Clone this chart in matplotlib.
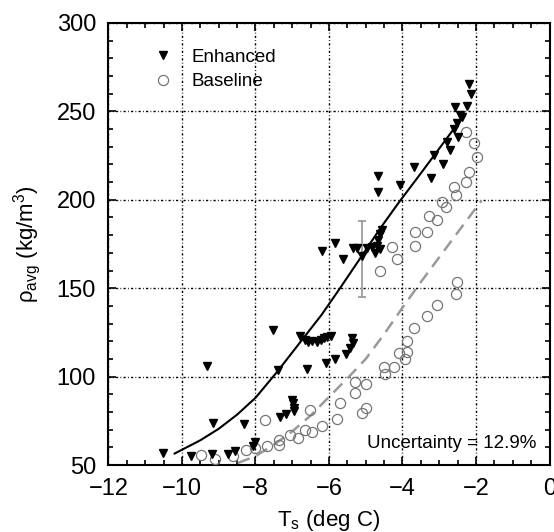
import matplotlib
matplotlib.use("Agg")
import matplotlib.pyplot as plt
from matplotlib.ticker import MultipleLocator

plt.rcParams["font.family"] = ["Liberation Sans", "DejaVu Sans"]
plt.rcParams["mathtext.fontset"] = "custom"
plt.rcParams["mathtext.rm"] = "Liberation Sans"
plt.rcParams["mathtext.it"] = "Liberation Sans:italic"

# Enhanced (filled down triangles)
enhanced_t = [-10.51, -9.76, -9.33, -9.16, -9.19, -8.74, -8.56, -8.30, -8.07, -8.02,
              -7.52, -7.40, -7.34, -7.16, -7.02, -6.97, -6.94, -6.96,
              -6.79, -6.65, -6.56, -6.47, -6.32, -6.23, -6.14, -6.05, -5.95,
              -6.61, -6.08, -5.84, -5.54, -5.43, -5.34, -5.38,
              -6.20, -5.84, -5.61, -5.34, -5.25, -5.11, -4.97, -4.84, -4.75, -4.61,
              -4.70, -4.67, -4.60, -4.56, -4.68, -4.68, -4.07, -3.69, -3.23, -3.14,
              -2.89, -2.80, -2.70, -2.48, -2.59, -2.58, -2.44, -2.37, -2.51, -2.24,
              -2.14, -2.19]
enhanced_rho = [57, 55, 106, 74, 56, 56, 58, 73, 61, 63,
                126.5, 103.5, 77, 79, 86.5, 85, 82.5, 80.5,
                123, 120.7, 119.8, 120.1, 119.8, 120.7, 121.6, 122.6, 123,
                104.5, 107.5, 110, 113, 116, 119, 122,
                171, 175.4, 166.4, 172.5, 172.5, 168, 172.6, 173.5, 170, 172,
                174, 177, 180.5, 183, 204.5, 213.6, 208.4, 218.3, 212.6, 225.2,
                220.4, 232.9, 228, 235.4, 240.2, 252.5, 248, 247, 243.3, 253.3,
                260, 265.5]

# Baseline (open circles)
baseline_t = [-9.49, -9.10, -8.61, -8.26, -8.00, -7.74, -7.69, -7.37, -7.35, -7.05,
              -6.84, -6.65, -6.47, -6.51, -6.20, -5.77, -5.69, -5.29, -5.29, -5.00,
              -5.09, -5.00, -4.48, -4.49, -4.22, -3.94, -4.09, -3.88, -3.87, -3.68,
              -3.33, -3.06, -2.55, -2.53, -4.60, -4.14, -4.29, -3.67, -3.67, -3.34,
              -3.06, -3.27, -2.82, -2.92, -2.55, -2.60, -2.27, -2.18, -1.98, -2.05,
              -2.27, -5.11]
baseline_rho = [55.7, 53.6, 55.1, 58.3, 59.5, 75.7, 61, 63.9, 61.3, 66.8,
                65.1, 69.8, 68.5, 80.9, 72.1, 76.1, 85.3, 90.6, 97.1, 95.6,
                79.2, 82.4, 101.5, 105.5, 105.5, 109.9, 113.3, 114, 120.4, 127.5,
                134.3, 140.5, 147, 153.4, 159.7, 166.3, 173.1, 174, 181.8, 181.8,
                188.8, 190.6, 196, 198.9, 202.7, 207.4, 210, 215.9, 224.4, 232,
                238.5, 171.6]

# fit curves
enh_fit_t = [-10.2, -9.5, -9.0, -8.5, -8.0, -7.4, -6.8, -6.2, -5.7, -5.1,
             -4.6, -4.1, -3.5, -3.0, -2.5]
enh_fit_rho = [56.5, 64, 70.5, 78.5, 88, 103, 119, 135, 150, 168.5,
               184, 198.5, 215, 229, 243]
base_fit_t = [-9.0, -8.5, -8.0, -7.5, -7.0, -6.5, -6.0, -5.5, -5.0, -4.5,
              -4.0, -3.5, -3.0, -2.5, -1.85]
base_fit_rho = [48, 51, 55, 61.5, 69, 78, 88.5, 99, 110, 124,
                139, 153.5, 167.5, 181.5, 199.5]

err_t = [-5.1]
err_rho = [166.7]
err_size = [21.5]

fig = plt.figure(figsize=(5.54, 5.32), dpi=100)
ax = fig.add_axes([0.1958, 0.1259, 0.7961, 0.8309])

ax.grid(True, which="major", color="black", linestyle=(0, (1.6, 1.6, 0.6, 1.6)), linewidth=1.0)
ax.set_axisbelow(True)

ax.plot(base_fit_t, base_fit_rho, color="#9a9a9a", linestyle=(0, (5, 3)), linewidth=1.8, zorder=2)
ax.plot(enh_fit_t, enh_fit_rho, color="black", linewidth=1.5, zorder=3)
ax.errorbar(err_t, err_rho, yerr=err_size, fmt="none", ecolor="#8c8c8c", elinewidth=1.1,
            capsize=3, capthick=1.1, zorder=4)

ax.plot(baseline_t, baseline_rho, linestyle="none", marker="o", markersize=7.3,
        markerfacecolor="none", markeredgecolor="#757575", markeredgewidth=0.9,
        label="Baseline", zorder=5)
ax.plot(enhanced_t, enhanced_rho, linestyle="none", marker="v", markersize=6.3,
        color="black", label="Enhanced", zorder=6)

ax.set_xlim(-12, 0)
ax.set_ylim(50, 300)
ax.xaxis.set_major_locator(MultipleLocator(2))
ax.xaxis.set_minor_locator(MultipleLocator(0.5))
ax.yaxis.set_major_locator(MultipleLocator(50))
ax.yaxis.set_minor_locator(MultipleLocator(10))
ax.tick_params(which="both", direction="in", top=True, right=True, labelsize=17, width=1.2)
ax.tick_params(which="major", length=6, pad=9)
ax.tick_params(which="minor", length=3.5)
for spine in ax.spines.values():
    spine.set_linewidth(1.5)

ax.set_xlabel(r"T$_{\rm s}$ (deg C)", fontsize=16, labelpad=6)
ax.set_ylabel(r"ρ$_{\rm avg}$ (kg/m$^3$)", fontsize=16, labelpad=10)

handles, labels = ax.get_legend_handles_labels()
ax.legend(handles[::-1], labels[::-1], loc="upper left", bbox_to_anchor=(0.065, 0.98),
          frameon=False, fontsize=13.5, handlelength=1.0, handletextpad=1.0, labelspacing=0.4)

ax.text(-0.35, 62, "Uncertainty = 12.9%", fontsize=13.5, ha="right", va="center", zorder=7)

fig.savefig("out.png", dpi=100)
